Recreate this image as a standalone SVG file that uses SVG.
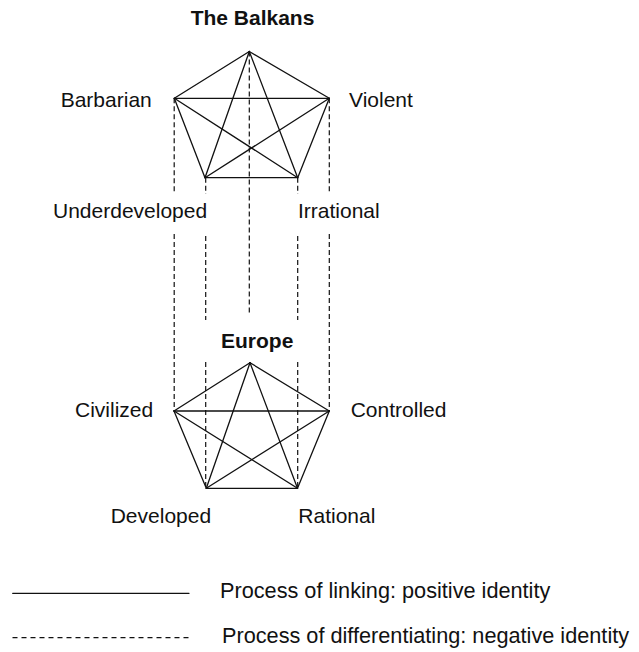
<svg xmlns="http://www.w3.org/2000/svg" width="639" height="652" viewBox="0 0 639 652">
<style>
.lbl{font-family:"Liberation Sans",Arial,Helvetica,sans-serif;font-size:21px;fill:#111}
.ttl{font-family:"Liberation Sans",Arial,Helvetica,sans-serif;font-size:21px;font-weight:bold;fill:#111}
.leg{font-family:"Liberation Sans",Arial,Helvetica,sans-serif;font-size:21.7px;fill:#111}
.solid{stroke:#111;stroke-width:1.3;fill:none;stroke-linecap:round}
.dash{stroke:#111;stroke-width:1.2;fill:none;stroke-dasharray:5 3}
.ldash{stroke:#111;stroke-width:1.2;fill:none;stroke-dasharray:5 4}
</style>
<rect width="639" height="652" fill="#fff"/>
<g id="connectors">
  <g id="balkans-links">
    <line class="solid" x1="249.3" y1="51.5" x2="174.3" y2="98.3"/>
    <line class="solid" x1="249.3" y1="51.5" x2="329.3" y2="98.3"/>
    <line class="solid" x1="249.3" y1="51.5" x2="205" y2="177.7"/>
    <line class="solid" x1="249.3" y1="51.5" x2="297.7" y2="177.7"/>
    <line class="solid" x1="174.3" y1="98.3" x2="329.3" y2="98.3"/>
    <line class="solid" x1="174.3" y1="98.3" x2="205" y2="177.7"/>
    <line class="solid" x1="174.3" y1="98.3" x2="297.7" y2="177.7"/>
    <line class="solid" x1="329.3" y1="98.3" x2="205" y2="177.7"/>
    <line class="solid" x1="329.3" y1="98.3" x2="297.7" y2="177.7"/>
    <line class="solid" x1="205" y1="177.7" x2="297.7" y2="177.7"/>
  </g>
  <g id="europe-links">
    <line class="solid" x1="250" y1="362.7" x2="174" y2="411"/>
    <line class="solid" x1="250" y1="362.7" x2="329.3" y2="411"/>
    <line class="solid" x1="250" y1="362.7" x2="206.3" y2="488.3"/>
    <line class="solid" x1="250" y1="362.7" x2="297.5" y2="488.3"/>
    <line class="solid" x1="174" y1="411" x2="329.3" y2="411"/>
    <line class="solid" x1="174" y1="411" x2="206.3" y2="488.3"/>
    <line class="solid" x1="174" y1="411" x2="297.5" y2="488.3"/>
    <line class="solid" x1="329.3" y1="411" x2="206.3" y2="488.3"/>
    <line class="solid" x1="329.3" y1="411" x2="297.5" y2="488.3"/>
    <line class="solid" x1="206.3" y1="488.3" x2="297.5" y2="488.3"/>
  </g>
  <g id="differentiating">
    <line class="dash" x1="174.2" y1="98.3" x2="174.2" y2="194"/>
    <line class="dash" x1="174.2" y1="234" x2="174.2" y2="411"/>
    <line class="dash" x1="205.7" y1="177.7" x2="205.7" y2="194"/>
    <line class="dash" x1="205.7" y1="236" x2="205.7" y2="320"/>
    <line class="dash" x1="205.7" y1="362" x2="205.7" y2="488.3"/>
    <line class="dash" x1="249.3" y1="51.5" x2="249.3" y2="313"/>
    <line class="dash" x1="297.7" y1="177.7" x2="297.7" y2="194"/>
    <line class="dash" x1="297.7" y1="236" x2="297.7" y2="320"/>
    <line class="dash" x1="297.7" y1="362" x2="297.7" y2="488.3"/>
    <line class="dash" x1="329.3" y1="98.3" x2="329.3" y2="194"/>
    <line class="dash" x1="329.3" y1="234" x2="329.3" y2="411"/>
  </g>
</g>
<g id="node-the-balkans"><text class="ttl" x="252.5" y="25.3" text-anchor="middle">The Balkans</text></g>
<g id="node-barbarian"><text class="lbl" x="60.7" y="106.5">Barbarian</text></g>
<g id="node-violent"><text class="lbl" x="349" y="106.5">Violent</text></g>
<g id="node-underdeveloped"><text class="lbl" x="53" y="218.3">Underdeveloped</text></g>
<g id="node-irrational"><text class="lbl" x="298" y="218.3">Irrational</text></g>
<g id="node-europe"><text class="ttl" x="257.2" y="348.3" text-anchor="middle">Europe</text></g>
<g id="node-civilized"><text class="lbl" x="75" y="416.7">Civilized</text></g>
<g id="node-controlled"><text class="lbl" x="350.7" y="416.7">Controlled</text></g>
<g id="node-developed"><text class="lbl" x="110.7" y="523.3">Developed</text></g>
<g id="node-rational"><text class="lbl" x="298.3" y="523.3">Rational</text></g>
<g id="legend">
  <line class="solid" x1="12.7" y1="593.3" x2="189" y2="593.3" stroke-linecap="butt"/>
  <text class="leg" x="220" y="598.3">Process of linking: positive identity</text>
  <line class="ldash" x1="12.5" y1="637.7" x2="190" y2="637.7"/>
  <text class="leg" x="222" y="643">Process of differentiating: negative identity</text>
</g>
</svg>
